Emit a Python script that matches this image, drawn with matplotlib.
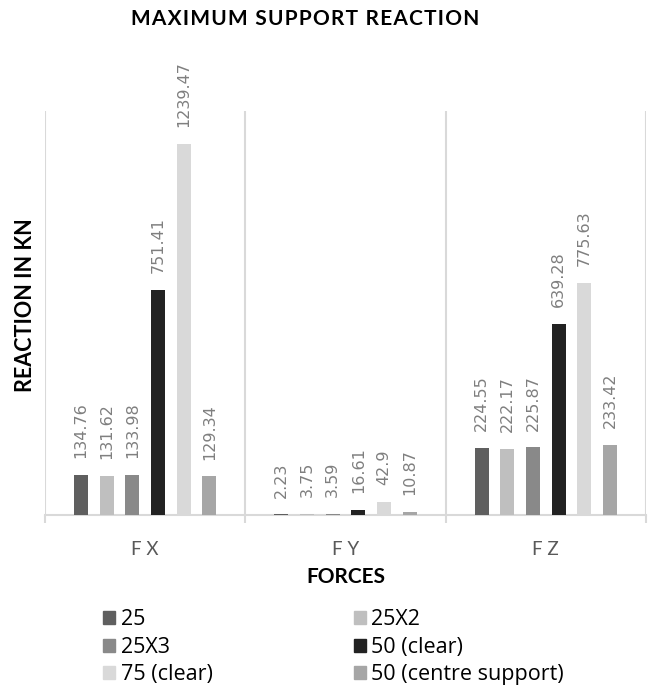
import matplotlib.pyplot as plt
from matplotlib.patches import Patch
import numpy as np

plt.rcParams['font.family'] = ['Lato', 'DejaVu Sans']

# %%
forces = ['F X', 'F Y', 'F Z']
series = ['25', '25X2', '25X3', '50 (clear)', '75 (clear)', '50 (centre support)']
colors = ['#5f5f5f', '#bfbfbf', '#898989', '#222222', '#d9d9d9', '#a6a6a6']

s25 = [134.76, 2.23, 224.55]
s25x2 = [131.62, 3.75, 222.17]
s25x3 = [133.98, 3.59, 225.87]
s50_clear = [751.41, 16.61, 639.28]
s75_clear = [1239.47, 42.9, 775.63]
s50_centre = [129.34, 10.87, 233.42]
values = [s25, s25x2, s25x3, s50_clear, s75_clear, s50_centre]

# %%
fig = plt.figure(figsize=(6.49, 6.88), dpi=100)
ax = fig.add_axes([45 / 649, 1 - 515 / 688, 601 / 649, 404 / 688])

x = np.arange(len(forces))
step = 0.128
width = 0.07
for j, (vals, c) in enumerate(zip(values, colors)):
    pos = x + (j - 2.5) * step
    ax.bar(pos, vals, width=width, color=c, zorder=3)
    for xi, v in zip(pos, vals):
        ax.annotate(f'{v:g}', (xi, v), xytext=(0, 12), textcoords='offset points',
                    rotation=90, ha='center', va='bottom', color='#7f7f7f',
                    fontsize=11.5, family=['DejaVu Sans'])

ax.set_xlim(-0.5, 2.5)
ax.set_ylim(0, 1350)
ax.set_yticks([])
for s in ['top', 'right', 'left']:
    ax.spines[s].set_visible(False)
ax.spines['bottom'].set_color('#d9d9d9')
ax.spines['bottom'].set_linewidth(1.5)

# category separators
ax.set_xticks(x)
ax.set_xticklabels(forces, color='#595959', fontsize=13.5)
ax.tick_params(axis='x', length=0, pad=19)
ax.set_xticks([-0.5, 0.5, 1.5, 2.5], minor=True)
ax.tick_params(axis='x', which='minor', length=6, color='#d9d9d9', width=1.5)
ax.grid(axis='x', which='minor', color='#d9d9d9', linewidth=1.5, zorder=0)

ax.set_xlabel('FORCES', fontsize=15, fontweight='bold')
ax.xaxis.set_label_coords(0.5, -0.153)
ax.xaxis.label.set_va('center')
ax.set_ylabel('REACTION IN KN', fontsize=15.5, fontweight='bold')
ax.yaxis.set_label_coords(-0.032, 0.52)
ax.yaxis.label.set_va('center')
fig.text(305 / 649, 1 - 19 / 688, '\u200a'.join('MAXIMUM SUPPORT REACTION'),
         ha='center', va='center', fontsize=15, fontweight='bold')

# legend, row-major order like the reference
order = [0, 2, 4, 1, 3, 5]
handles = [Patch(color=colors[i], label=series[i]) for i in order]
fig.legend(handles=handles, ncol=2, loc='upper left', bbox_to_anchor=(99 / 649, 1 - 605 / 688),
           frameon=False, prop={'family': ['Open Sans', 'DejaVu Sans'], 'size': 15.5},
           handlelength=0.56, handleheight=0.56,
           handletextpad=0.25, columnspacing=6.55, labelspacing=0.3,
           borderaxespad=0, borderpad=0.2)

fig.savefig('out.png', dpi=100)
